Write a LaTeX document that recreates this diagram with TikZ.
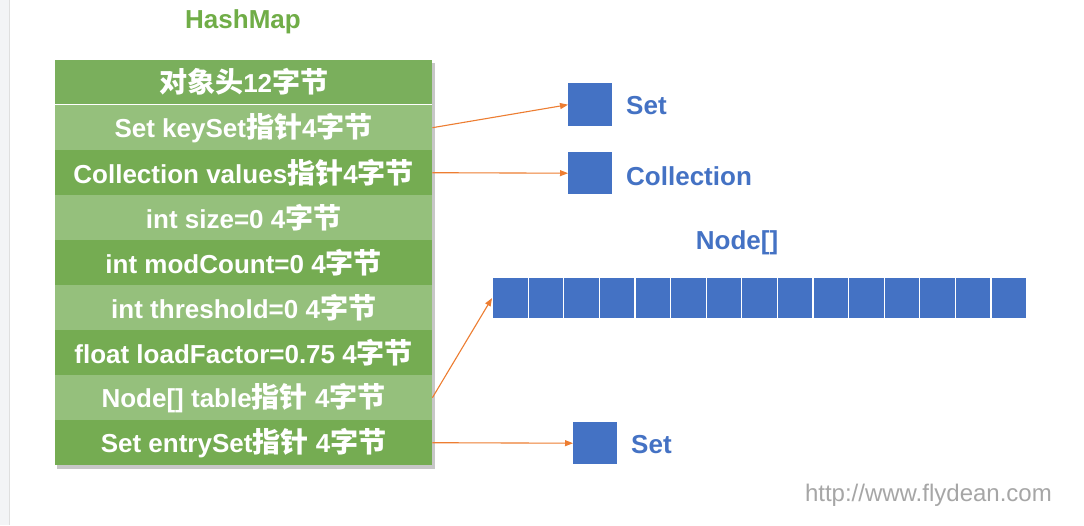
\documentclass[tikz,border=0pt]{standalone}
\usepackage{fontspec}
\setmainfont{Liberation Sans}
\newfontfamily\cjkfont{Noto Sans CJK SC}[Scale=1.08]
\newcommand{\zh}[1]{{\cjkfont\bfseries #1}}
\usetikzlibrary{arrows.meta}
\definecolor{hdr}{HTML}{7AAF5C}
\definecolor{gdark}{HTML}{75AC52}
\definecolor{glight}{HTML}{95C07C}
\definecolor{tgreen}{HTML}{70AD47}
\definecolor{blu}{HTML}{4472C4}
\definecolor{org}{HTML}{ED7D31}
\definecolor{strip}{HTML}{F3F4F6}
\tikzset{
  rowbox/.style={draw=none, minimum width=377pt, minimum height=45pt, inner sep=0pt, anchor=north west, text=white, font=\bfseries\fontsize{26}{28}\selectfont},
  sq/.style={fill=blu, draw=none, minimum width=44pt, minimum height=43pt, inner sep=0pt, anchor=north west},
  lbl/.style={text=blu, font=\bfseries\fontsize{26}{28}\selectfont, anchor=west, inner sep=0pt},
  cell/.style={fill=blu, draw=white, line width=1.2pt, minimum width=35.6pt, minimum height=41pt, inner sep=0pt, anchor=north west},
  arr/.style={draw=org, line width=1.1pt, -{Triangle[length=8pt,width=6pt]}}
}
\begin{document}
\begin{tikzpicture}[x=1pt,y=-1pt]
\useasboundingbox (0,0) rectangle (1084,525);
\fill[white] (0,0) rectangle (1084,525);
\fill[strip] (0,0) rectangle (9,525);
\draw[gray!25, line width=0.8pt] (9.5,0) -- (9.5,525);
% title
\node[text=tgreen, font=\bfseries\fontsize{26}{28}\selectfont] (title) at (243,22) {HashMap};
% shadow
\fill[black!22] (57,63) rectangle (435,469);
% table
\node[rowbox, fill=hdr, minimum height=44pt] (h) at (55,60) {\zh{对象头}12\zh{字节}};
\fill[white] (55,103.5) rectangle (432,105.5);
\node[rowbox, fill=glight] (r1) at (55,105) {Set keySet\zh{指针}4\zh{字节}};
\node[rowbox, fill=gdark]  (r2) at (55,150) {Collection values\zh{指针}4\zh{字节}};
\node[rowbox, fill=glight] (r3) at (55,195) {int size=0 4\zh{字节}};
\node[rowbox, fill=gdark]  (r4) at (55,240) {int modCount=0 4\zh{字节}};
\node[rowbox, fill=glight] (r5) at (55,285) {int threshold=0 4\zh{字节}};
\node[rowbox, fill=gdark]  (r6) at (55,330) {float loadFactor=0.75 4\zh{字节}};
\node[rowbox, fill=glight] (r7) at (55,375) {Node[] table\zh{指针} 4\zh{字节}};
\node[rowbox, fill=gdark]  (r8) at (55,420) {Set entrySet\zh{指针} 4\zh{字节}};
% targets
\node[sq] (s1) at (568,83) {};
\node[lbl] (l1) at (626,106) {Set};
\node[sq, minimum height=42pt] (s2) at (568,152) {};
\node[lbl] (l2) at (626,176) {Collection};
\node[text=blu, font=\bfseries\fontsize{26}{28}\selectfont] (nl) at (737,243) {Node[]};
\foreach \i in {1,...,15}{
  \node[cell] (c\i) at ({492+35.6*(\i-1)},277) {};
}
\node[sq, minimum height=42pt] (s3) at (573,422) {};
\node[lbl] (l3) at (631,445) {Set};
% arrows
\draw[arr] (r1.east) -- (s1.west);
\draw[arr] (r2.east) -- (s2.west);
\draw[arr] (r7.east) -- (c1.west);
\draw[arr] (r8.east) -- (s3.west);
% watermark
\node[text=black!35, font=\fontsize{24}{26}\selectfont, anchor=east, inner sep=0pt] (wm) at (1052,495) {http://www.flydean.com};
\end{tikzpicture}
\end{document}
